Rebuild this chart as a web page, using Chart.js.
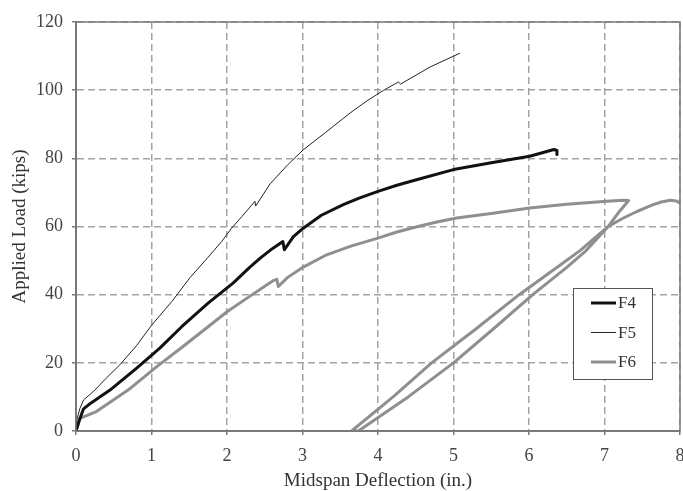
<!DOCTYPE html>
<html>
<head>
<meta charset="utf-8">
<script src="https://cdn.jsdelivr.net/npm/chart.js@4/dist/chart.umd.min.js"></script>
<style>
  html, body { margin: 0; padding: 0; background: #fff; }
  #wrap { width: 683px; height: 491px; }
</style>
</head>
<body>
<div id="wrap"><canvas id="loadChart" width="683" height="491"></canvas></div>
<script>
// Load-deflection data (deflection in in., load in kips)
const f4Deflection = [0, 0.05, 0.1, 0.19, 0.45, 0.8, 1.11, 1.4, 1.75, 2.08, 2.3, 2.44, 2.6, 2.74, 2.76, 2.88, 3.01, 3.25, 3.54, 3.75, 4.0, 4.25, 4.51, 5.0, 5.5, 6.01, 6.2, 6.33, 6.37, 6.37];
const f4Load       = [0, 3.5, 6.5, 8.1, 12, 18.4, 24.3, 30.6, 37.5, 43.4, 48, 50.7, 53.5, 55.6, 53.2, 57, 59.5, 63.3, 66.4, 68.3, 70.3, 72.1, 73.7, 76.7, 78.7, 80.6, 81.8, 82.6, 82.3, 81.1];

const f5Deflection = [0, 0.01, 0.05, 0.1, 0.25, 0.4, 0.58, 0.8, 1.0, 1.27, 1.51, 1.75, 1.93, 2.06, 2.2, 2.37, 2.38, 2.57, 2.8, 3.01, 3.3, 3.63, 3.85, 4.07, 4.27, 4.3, 4.69, 5.08];
const f5Load       = [0, 3.2, 6.5, 9.1, 12, 15.5, 19.4, 25, 31, 38, 45, 51, 55.6, 59.5, 63, 67.4, 66, 72.5, 78, 82.5, 87.5, 93.3, 96.8, 99.9, 102.4, 101.8, 106.8, 110.8];

// F6: loading, unloading to residual, reloading
const f6Deflection = [0, 0.05, 0.27, 0.69, 1.07, 1.4, 1.75, 2.0, 2.3, 2.5, 2.62, 2.66, 2.68, 2.8, 3.01, 3.32, 3.65, 4.0, 4.25, 4.53, 4.78, 5.04, 5.5, 6.01, 6.5, 7.03, 7.25, 7.32,
                      7.2, 7.05, 6.68, 6.4, 5.87, 5.3, 4.71, 4.2, 3.65,
                      3.74, 4.4, 5.0, 5.53, 6.05, 6.5, 6.76, 7.05, 7.25, 7.43, 7.62, 7.75, 7.87, 7.95, 8.0];
const f6Load       = [0, 3.7, 5.7, 12, 18.9, 24.5, 30.6, 35, 39.5, 42.5, 44.2, 44.5, 42.4, 45, 48.1, 51.7, 54.3, 56.6, 58.4, 60, 61.3, 62.5, 63.8, 65.4, 66.5, 67.4, 67.7, 67.6,
                      64.5, 60, 53, 48.5, 40, 30, 20, 10, 0,
                      0, 10, 20, 30, 40, 48, 53, 60, 62.5, 64.4, 66.2, 67.2, 67.7, 67.5, 66.9];

const xTicks = [0, 1, 2, 3, 4, 5, 6, 7, 8];
const yTicks = [0, 20, 40, 60, 80, 100, 120];

const FONT = '"Liberation Serif", "Times New Roman", serif';
const GRID_GRAY = '#a3a3a3';
const AXIS_GRAY = '#7a7a7a';

function toPoints(xs, ys) {
  return xs.map((x, i) => ({ x: x, y: ys[i] }));
}

// Solid frame on top and right of the plot
const framePlugin = {
  id: 'frame',
  afterDatasetsDraw(chart) {
    const { ctx, chartArea: a } = chart;
    ctx.save();
    ctx.strokeStyle = AXIS_GRAY;
    ctx.lineWidth = 1.5;
    ctx.strokeRect(a.left, a.top, a.right - a.left, a.bottom - a.top);
    ctx.restore();
  }
};

// Boxed legend inside the plot, lower right
const boxLegend = {
  id: 'boxLegend',
  afterDraw(chart) {
    const { ctx, chartArea: a } = chart;
    const left = a.right - 107, top = a.top + 266, w = 79, h = 91;
    ctx.save();
    ctx.fillStyle = '#fff';
    ctx.fillRect(left, top, w, h);
    ctx.strokeStyle = '#555';
    ctx.lineWidth = 1;
    ctx.strokeRect(left + 0.5, top + 0.5, w, h);
    ctx.font = '17px ' + FONT;
    ctx.textBaseline = 'middle';
    ctx.fillStyle = '#333';
    chart.data.datasets.forEach((ds, i) => {
      const y = top + 15 + i * 29.5;
      ctx.beginPath();
      ctx.strokeStyle = ds.borderColor;
      ctx.lineWidth = ds.borderWidth;
      ctx.moveTo(left + 18, y);
      ctx.lineTo(left + 43, y);
      ctx.stroke();
      ctx.fillText(ds.label, left + 45, y + 1);
    });
    ctx.restore();
  }
};

new Chart(document.getElementById('loadChart'), {
  type: 'line',
  data: {
    datasets: [
      { label: 'F4', data: toPoints(f4Deflection, f4Load), borderColor: '#111', borderWidth: 3 },
      { label: 'F5', data: toPoints(f5Deflection, f5Load), borderColor: '#222', borderWidth: 1 },
      { label: 'F6', data: toPoints(f6Deflection, f6Load), borderColor: '#8f8f8f', borderWidth: 3 }
    ]
  },
  options: {
    responsive: false,
    animation: false,
    layout: { padding: { top: 22, right: 3, left: 0, bottom: 0 } },
    elements: { point: { radius: 0 }, line: { tension: 0, borderJoinStyle: 'round', borderCapStyle: 'round' } },
    plugins: { legend: { display: false }, tooltip: { enabled: false } },
    scales: {
      x: {
        type: 'linear',
        min: 0, max: 8,
        afterFit: s => { s.height = 60; s.paddingLeft = 0; s.paddingRight = 0; },
        afterBuildTicks: s => { s.ticks = xTicks.map(v => ({ value: v })); },
        ticks: { font: { family: FONT, size: 18 }, color: '#444', padding: 10, maxRotation: 0 },
        grid: { color: GRID_GRAY, lineWidth: 1.5, tickLength: 4, tickColor: AXIS_GRAY, tickBorderDash: [] },
        border: { color: AXIS_GRAY, width: 2, dash: [7, 4] },
        title: { display: true, text: 'Midspan Deflection (in.)', color: '#333', font: { family: FONT, size: 19, lineHeight: 1 }, padding: { top: 0, bottom: 0 } }
      },
      y: {
        min: 0, max: 120,
        afterFit: s => { s.width = 76; s.paddingTop = 0; s.paddingBottom = 0; },
        afterBuildTicks: s => { s.ticks = yTicks.map(v => ({ value: v })); },
        ticks: { font: { family: FONT, size: 18 }, color: '#444', padding: 9 },
        grid: { color: GRID_GRAY, lineWidth: 1.5, tickLength: 4, tickColor: AXIS_GRAY, tickBorderDash: [] },
        border: { color: AXIS_GRAY, width: 2, dash: [7, 4] },
        title: { display: true, text: 'Applied Load (kips)', color: '#333', font: { family: FONT, size: 19, lineHeight: 1 }, padding: { top: 11, bottom: 0 } }
      }
    }
  },
  plugins: [framePlugin, boxLegend]
});
</script>
</body>
</html>
